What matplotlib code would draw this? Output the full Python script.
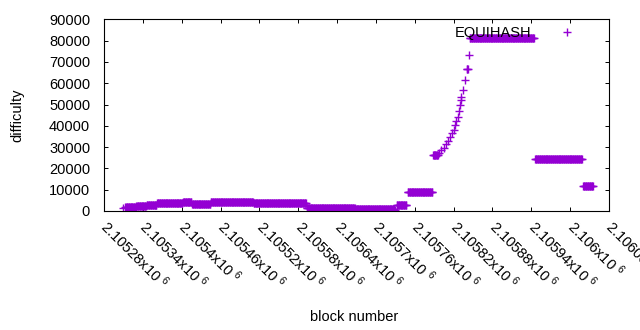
import numpy as np
import matplotlib
matplotlib.use("Agg")
import matplotlib.pyplot as plt

plt.rcParams['font.family'] = ['Liberation Sans', 'DejaVu Sans']
plt.rcParams['mathtext.default'] = 'regular'
plt.rcParams['font.size'] = 10.5

# Plateaus of constant difficulty (block ranges, inclusive)
seg_start = [2105313, 2105330, 2105346, 2105362, 2105402, 2105416, 2105445, 2105511,
             2105593, 2105668, 2105732, 2105749, 2105788, 2105845, 2105946, 2106020]
seg_end = [2105329, 2105345, 2105361, 2105401, 2105415, 2105444, 2105510, 2105592,
           2105667, 2105728, 2105747, 2105787, 2105796, 2105944, 2106018, 2106035]
seg_value = [1800, 2350, 2900, 3600, 4100, 3400, 4300, 3750,
             1550, 1150, 3000, 8800, 26300, 81400, 24200, 11900]

# Individual points (outliers and the rising curve)
point_block = [2105310, 2105730,
               2105798, 2105801, 2105805, 2105808, 2105812, 2105814, 2105817, 2105820,
               2105822, 2105824, 2105826, 2105828, 2105830, 2105831, 2105832, 2105835,
               2105837, 2105840, 2105841, 2105842, 2105844]
point_value = [1550, 400,
               27300, 28600, 29700, 31400, 32900, 34800, 36400, 38000,
               40300, 42300, 44200, 47000, 49700, 52000, 53300, 56700,
               61400, 66900, 66900, 66900, 73400]

x_ticks = [2105280, 2105340, 2105400, 2105460, 2105520, 2105580, 2105640,
           2105700, 2105760, 2105820, 2105880, 2105940, 2106000, 2106060]
x_tick_labels = ["2.10528", "2.10534", "2.1054", "2.10546", "2.10552", "2.10558", "2.10564",
                 "2.1057", "2.10576", "2.10582", "2.10588", "2.10594", "2.106", "2.10606"]
y_ticks = [0, 10000, 20000, 30000, 40000, 50000, 60000, 70000, 80000, 90000]

blocks = []
values = []
for s, e, v in zip(seg_start, seg_end, seg_value):
    for b in range(s, e + 1):
        blocks.append(b)
        values.append(v)
blocks += point_block
values += point_value

fig = plt.figure(figsize=(6.4, 3.3), dpi=100)
ax = fig.add_axes([104/640, 1 - 211/330, (609-104)/640, (211-19.3)/330])

color = '#9400D3'
ax.plot(blocks, values, linestyle='none', marker='+', markersize=5.6,
        markeredgewidth=1.0, color=color, label='EQUIHASH')

ax.set_xlim(x_ticks[0], x_ticks[-1])
ax.set_ylim(0, 90000)
ax.set_yticks(y_ticks)
ax.set_yticklabels([str(v) for v in y_ticks])
ax.set_xticks(x_ticks)
ax.set_xticklabels([l + "x10 $^{6}$" for l in x_tick_labels], rotation=-45,
                   ha='left', va='center', rotation_mode='anchor')

ax.tick_params(direction='in', length=3.2, width=0.7, top=True, right=True,
               labelsize=10.5, colors='black')
ax.tick_params(axis='y', pad=10)
ax.tick_params(axis='x', pad=9)
for sp in ax.spines.values():
    sp.set_linewidth(0.8)

ax.set_ylabel('difficulty', fontsize=10.5)
ax.yaxis.set_label_coords(-0.158, 0.5)
ax.set_xlabel('block number', fontsize=10.5)
ax.xaxis.set_label_coords(0.495, -0.515)

leg = ax.legend(loc='upper right', frameon=False, markerfirst=False,
                handlelength=4, handletextpad=0.4, borderpad=0.4,
                borderaxespad=0.5, bbox_to_anchor=(1, 1.034), fontsize=10.5)

fig.savefig('out.png', dpi=100)
